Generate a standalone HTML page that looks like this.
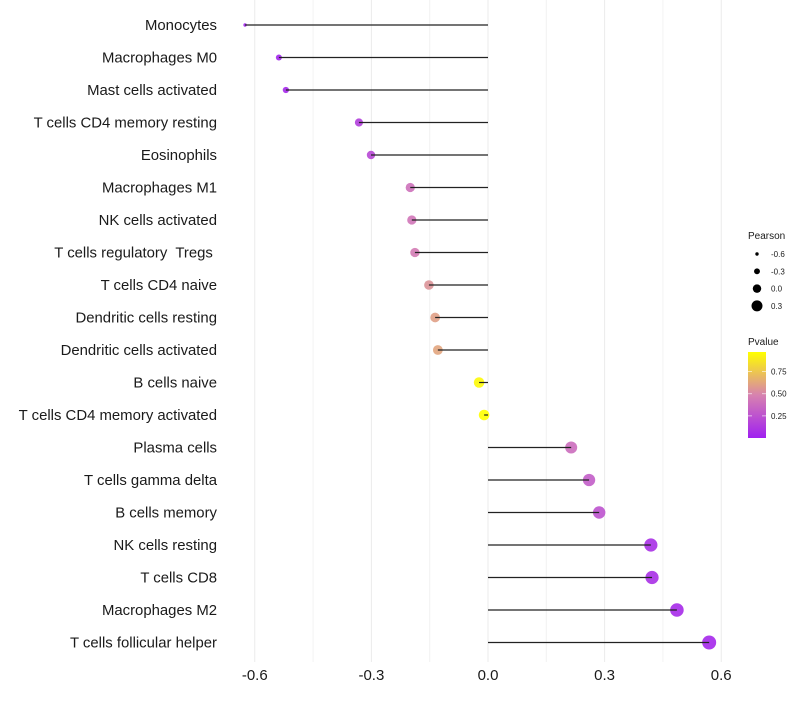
<!DOCTYPE html>
<html><head><meta charset="utf-8"><style>
body{margin:0;background:#fff;width:800px;height:700px;overflow:hidden;font-family:"Liberation Sans",sans-serif}
text{white-space:pre}
</style></head><body>
<svg id="chart" width="800" height="700" xmlns="http://www.w3.org/2000/svg" font-family="Liberation Sans, sans-serif"></svg>
<script>
const categories=["Monocytes","Macrophages M0","Mast cells activated","T cells CD4 memory resting","Eosinophils","Macrophages M1","NK cells activated","T cells regulatory  Tregs ","T cells CD4 naive","Dendritic cells resting","Dendritic cells activated","B cells naive","T cells CD4 memory activated","Plasma cells","T cells gamma delta","B cells memory","NK cells resting","T cells CD8","Macrophages M2","T cells follicular helper"];
const pearson=[-0.625,-0.538,-0.52,-0.332,-0.301,-0.2,-0.196,-0.188,-0.152,-0.136,-0.129,-0.023,-0.01,0.214,0.26,0.286,0.419,0.422,0.486,0.569];
const pvalue=[0.02,0.03,0.04,0.15,0.2,0.4,0.42,0.45,0.55,0.6,0.62,0.95,0.97,0.38,0.3,0.25,0.08,0.08,0.05,0.04];
const xTicks=[-0.6,-0.3,0.0,0.3,0.6];
const xMinor=[-0.45,-0.15,0.15,0.45];
const legendSizes=[-0.6,-0.3,0.0,0.3];
const legendP=[0.75,0.5,0.25];

const NS="http://www.w3.org/2000/svg";
const svg=document.getElementById('chart');
const X=v=>488+v*388.7;
const Y=i=>25+i*32.5;
const R=v=>v<-0.6?1.7:Math.sqrt(6+36*(v+0.625));
const LR=v=>1.7+4.2*(v+0.6);
const PY=p=>438-p*(86/0.97);
function col(p){
  const t=Math.max(0,Math.min(1,p/0.97));
  const a=[160,32,240],m=[215,130,175],b=[255,255,0];
  let c;
  if(t<0.5){const s=t/0.5;c=a.map((v,k)=>Math.round(v+(m[k]-v)*s));}
  else{const s=(t-0.5)/0.5;c=m.map((v,k)=>Math.round(v+(b[k]-v)*s));}
  return `rgb(${c[0]},${c[1]},${c[2]})`;
}
function el(tag,attrs,parent){const e=document.createElementNS(NS,tag);for(const k in attrs)e.setAttribute(k,attrs[k]);(parent||svg).appendChild(e);return e;}

const grid=el('g',{});


xMinor.forEach(v=>{const l=el('line',{x1:X(v),x2:X(v),y1:0,y2:662,stroke:'#f2f2f2','stroke-width':1},grid);

});
xTicks.forEach(v=>{const l=el('line',{x1:X(v),x2:X(v),y1:0,y2:662,stroke:'#ebebeb','stroke-width':1},grid);


const t=el('text',{x:X(v),y:680,'text-anchor':'middle','font-size':15,fill:'#1a1a1a'});
t.textContent=v.toFixed(1);

});

categories.forEach((c,i)=>{
  const t=el('text',{x:217,y:Y(i)+5,'text-anchor':'end','font-size':14.9,fill:'#1a1a1a'});
  t.textContent=c;
  
  
  const d=el('circle',{cx:X(pearson[i]),cy:Y(i),r:R(pearson[i]),fill:col(pvalue[i]),'fill-opacity':0.9});
  
  
  const l=el('line',{x1:X(0),x2:X(pearson[i]),y1:Y(i),y2:Y(i),stroke:'#222','stroke-width':1.2});
  
  
});

const lg=el('g',{});


const lt=el('text',{x:748,y:239,'font-size':10,fill:'#1a1a1a'},lg);lt.textContent='Pearson';


legendSizes.forEach((v,k)=>{const y=254+k*17.3;
  const c=el('circle',{cx:757,cy:y,r:LR(v),fill:'#000'},lg);
  
  
  const t=el('text',{x:771,y:y+3,'font-size':8,fill:'#1a1a1a'},lg);t.textContent=v.toFixed(1);
  
  });
const pt=el('text',{x:748,y:345,'font-size':10,fill:'#1a1a1a'},lg);pt.textContent='Pvalue';


const defs=el('defs',{});
const gr=el('linearGradient',{id:'pg',x1:0,y1:1,x2:0,y2:0},defs);
[0,0.25,0.5,0.75,1].forEach(s=>el('stop',{offset:s,'stop-color':col(s*0.97)},gr));
const bar=el('rect',{x:748,y:352,width:18,height:86,fill:'url(#pg)'},lg);


legendP.forEach(p=>{const y=PY(p);
  el('line',{x1:748,x2:752,y1:y,y2:y,stroke:'#fff','stroke-opacity':0.6},lg);
  el('line',{x1:762,x2:766,y1:y,y2:y,stroke:'#fff','stroke-opacity':0.6},lg);
  const t=el('text',{x:771,y:y+3,'font-size':8,fill:'#1a1a1a'},lg);t.textContent=p.toFixed(2);
  
  });
</script>
</body></html>
